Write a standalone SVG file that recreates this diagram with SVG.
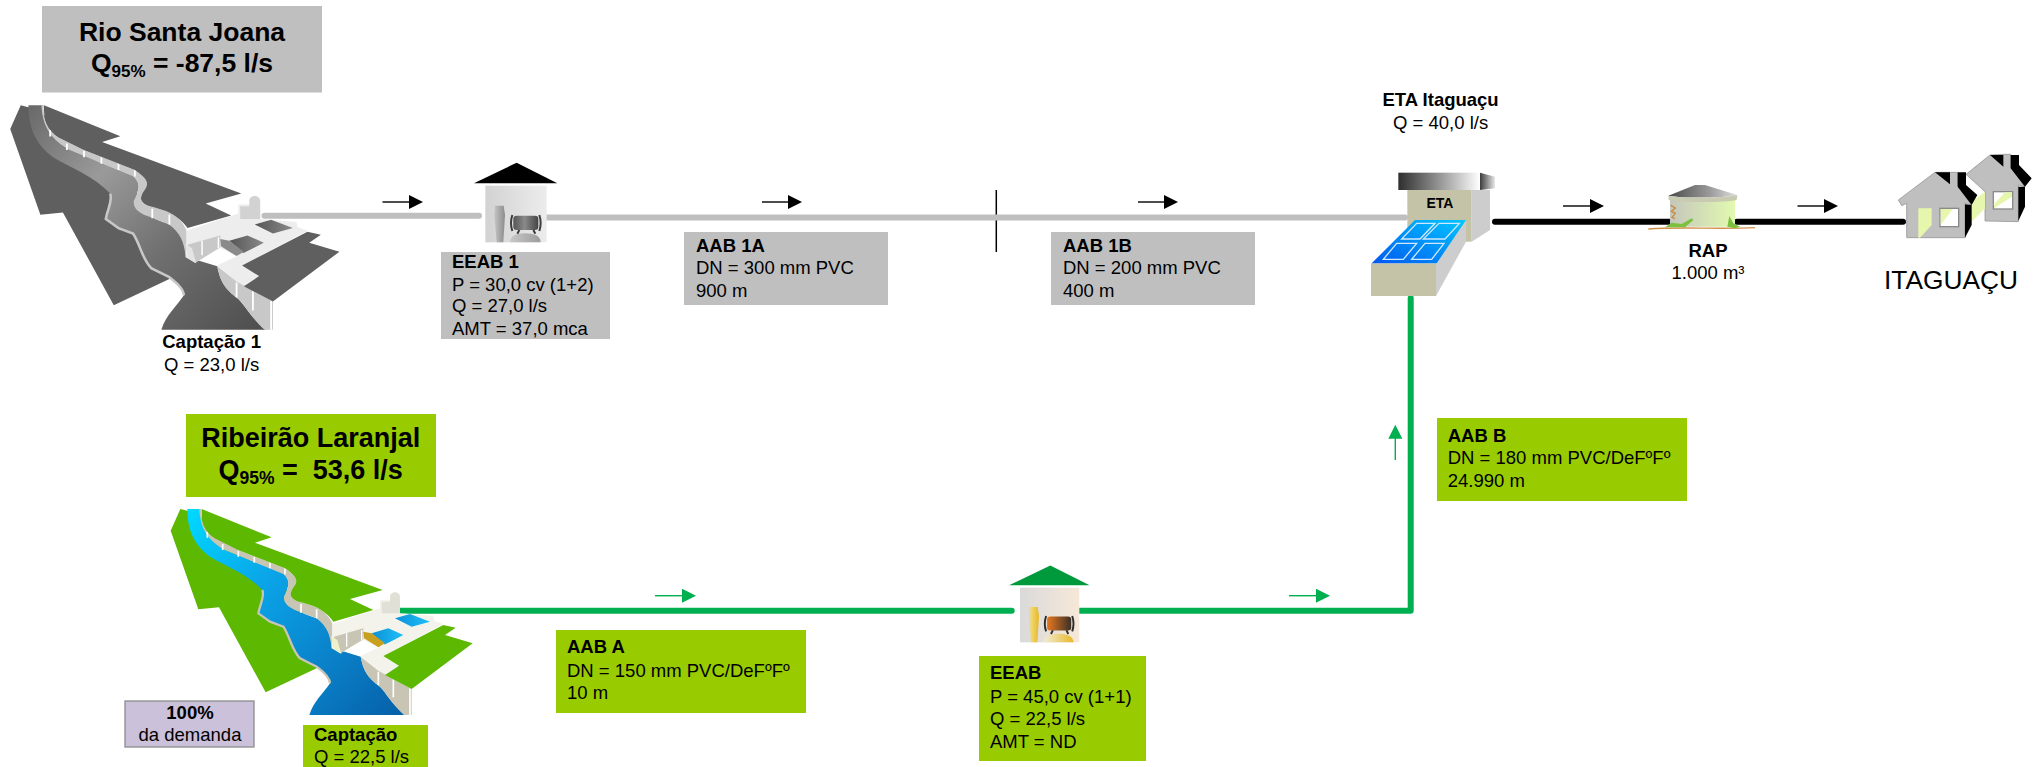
<svg xmlns="http://www.w3.org/2000/svg" width="2035" height="767" viewBox="0 0 2035 767">
<style>
text{font-family:"Liberation Sans",Arial,sans-serif;fill:#000;white-space:pre}
.t{font-size:18.5px}
.b{font-weight:bold}
.m{text-anchor:middle}
.h{font-size:26.5px;font-weight:bold;text-anchor:middle}
.g{fill:#bfbfbf}
.v{fill:#99cc00}
.pipe{fill:none;stroke-width:6;stroke-linecap:round;stroke-linejoin:round}
.ar{stroke-width:1.4;fill:none}
.ak{stroke:#000;marker-end:url(#hk)}
.ag{stroke:#00b050;marker-end:url(#hg)}
.land{fill:var(--land)}
.water{fill:var(--water)}
.wall{fill:var(--wall)}
.top{fill:var(--top)}
.rib{stroke:#fff;stroke-width:5;fill:none}
.bank{fill:none;stroke:var(--wall);stroke-width:7}
.basin{fill:var(--basin)}
.gate{fill:var(--gate)}
.pale{fill:var(--pale)}
.tower{fill:var(--tower)}
.rf{fill:var(--rf)}
.bd{fill:var(--bd)}
.cl{fill:var(--cl)}
.pm{fill:var(--pm)}
.fl{fill:none;stroke:var(--fl);stroke-width:6}
.bs{fill:var(--bs)}
.hs{fill:#bfbfbf;stroke:#8a8a8a;stroke-width:2}
.k{fill:#000}
.ye{fill:#e6f7ad}
.win{fill:#fff;stroke:#8a8a8a;stroke-width:4}
</style>
<defs>
<marker id="hk" markerUnits="userSpaceOnUse" markerWidth="15" markerHeight="15" refX="1" refY="7" orient="auto"><path d="M0,0L14,7L0,14Z" fill="#000"/></marker>
<marker id="hg" markerUnits="userSpaceOnUse" markerWidth="15" markerHeight="15" refX="1" refY="7" orient="auto"><path d="M0,0L14,7L0,14Z" fill="#00b050"/></marker>
<linearGradient id="wG" gradientUnits="userSpaceOnUse" x1="262" y1="340" x2="900" y2="950"><stop offset="0" stop-color="#00d8ff"/><stop offset=".35" stop-color="#0aa4e8"/><stop offset=".7" stop-color="#0a80c8"/><stop offset="1" stop-color="#0560a8"/></linearGradient>
<linearGradient id="wK" gradientUnits="userSpaceOnUse" x1="262" y1="340" x2="900" y2="950"><stop offset="0" stop-color="#6a6a6a"/><stop offset=".3" stop-color="#9a9a9a"/><stop offset=".6" stop-color="#707070"/><stop offset="1" stop-color="#4e4e4e"/></linearGradient>
<linearGradient id="bG" x1="0" y1="0" x2="1" y2="0"><stop offset="0" stop-color="#0a90d8"/><stop offset="1" stop-color="#20c0f8"/></linearGradient>
<linearGradient id="bK" x1="0" y1="0" x2="1" y2="0"><stop offset="0" stop-color="#555"/><stop offset="1" stop-color="#8a8a8a"/></linearGradient>
<linearGradient id="eb1" x1="0" y1="0" x2="1" y2="0"><stop offset="0" stop-color="#d2d2d2"/><stop offset="1" stop-color="#ececec"/></linearGradient>
<linearGradient id="ec1" x1="0" y1="0" x2="1" y2="0"><stop offset="0" stop-color="#c4c4c4"/><stop offset="1" stop-color="#8c8c8c"/></linearGradient>
<linearGradient id="ep1" x1="0" y1="0" x2="1" y2="0"><stop offset="0" stop-color="#555"/><stop offset=".45" stop-color="#8a8a8a"/><stop offset="1" stop-color="#444"/></linearGradient>
<linearGradient id="es1" x1="0" y1="0" x2="1" y2="0"><stop offset="0" stop-color="#c8c8c8"/><stop offset="1" stop-color="#9c9c9c"/></linearGradient>
<linearGradient id="eb2" x1="0" y1="0" x2="1" y2="0"><stop offset="0" stop-color="#dadada"/><stop offset="1" stop-color="#f6e8d8"/></linearGradient>
<linearGradient id="ec2" x1="0" y1="0" x2="1" y2="0"><stop offset="0" stop-color="#d8d8d8"/><stop offset=".25" stop-color="#f0d870"/><stop offset="1" stop-color="#e8b828"/></linearGradient>
<linearGradient id="ep2" x1="0" y1="0" x2="1" y2="0"><stop offset="0" stop-color="#e87820"/><stop offset="1" stop-color="#3a3028"/></linearGradient>
<linearGradient id="es2" x1="0" y1="0" x2="1" y2="0"><stop offset="0" stop-color="#f0ecd8"/><stop offset="1" stop-color="#e8b828"/></linearGradient>
<linearGradient id="capF" x1="0" y1="0" x2="1" y2="0"><stop offset="0" stop-color="#2e2e2e"/><stop offset=".45" stop-color="#8a8a8a"/><stop offset="1" stop-color="#fff"/></linearGradient>
<linearGradient id="capS" x1="0" y1="0" x2="1" y2="0"><stop offset="0" stop-color="#3c3c3c"/><stop offset="1" stop-color="#e8e8e8"/></linearGradient>
<linearGradient id="tank" x1="0" y1="1" x2="1" y2="0"><stop offset="0" stop-color="#0058f0"/><stop offset="1" stop-color="#00c8ff"/></linearGradient>
<linearGradient id="rRoof" x1="0" y1="0" x2="1" y2="0"><stop offset="0" stop-color="#4a4a4a"/><stop offset=".6" stop-color="#9a9a9a"/><stop offset="1" stop-color="#e0e0e0"/></linearGradient>
<linearGradient id="rBody" x1="0" y1="0" x2="1" y2="0"><stop offset="0" stop-color="#c4c6bc"/><stop offset="1" stop-color="#e2fab0"/></linearGradient>
<g id="riverArt" transform="translate(100,400) scale(.33333)">
<path class="land" d="M241,327L212,392L295,628L357,622L497,877L650,805L600,600L450,480L290,340Z"/>
<path class="water" d="M262,327L303,327C300,380 320,420 375,450L550,520C575,545 565,560 552,590C555,620 590,632 650,655C690,680 695,710 700,745L782,770C790,810 800,830 840,860C860,880 870,905 915,945L628,945C640,905 670,880 690,850C690,835 670,815 650,800L600,775C575,750 570,710 550,680L510,665L475,640C480,610 495,590 487,570C440,520 380,500 330,470C290,440 262,400 262,327Z"/>
<path class="bank" d="M487,570C495,590 480,610 475,640L510,665L550,680C570,710 575,750 600,775L650,800C670,815 690,835 690,850"/>
<path class="wall" d="M303,327C303,370 315,395 345,415L420,452L555,505C585,525 595,540 585,555C570,575 565,590 590,602L640,618C670,630 690,650 697,672L702,745L695,745C690,700 680,680 650,655L590,632C565,622 550,610 552,590C565,560 575,545 550,522L375,450C330,425 300,390 298,327Z"/>
<path class="rib" d="M322,395V413M368,432V450M415,452V470M463,470V488M510,485V505M555,505V523M603,612V638M650,628V655"/>
<path class="land" d="M305,327L515,412L465,428L848,570L750,597L820,630L700,665C690,650 670,630 640,618L590,602C565,590 570,575 585,555C595,540 585,525 555,505L420,452L345,415C315,395 303,370 305,327Z"/>
<path class="top" d="M697,672L840,625L840,600L900,600L900,640L1000,648L1003,662L850,742L835,742L790,720L720,760L695,745Z"/>
<path class="wall" d="M702,710L790,685L790,718L722,760L702,745Z"/>
<path class="rib" d="M740,700V740M785,690V720" style="stroke-width:4"/>
<path class="pale" d="M693,708L712,720L724,762L700,745Z"/>
<path class="tower" d="M870,590C870,572 900,572 900,590V640H845V605H870Z"/>
<path class="basin" d="M885,655L930,642L990,665L935,680Z"/>
<path class="basin" d="M815,700L865,685L910,705L855,735Z"/>
<path class="gate" d="M790,695L815,700L855,730L835,742L792,715Z"/>
<path class="top" d="M782,768L1003,662L1030,672L850,768L897,797L853,825L835,812Z"/>
<path class="wall" d="M782,770L835,812L935,867V945H912C870,905 860,880 840,860C800,830 790,810 782,770Z"/>
<path class="rib" d="M835,815V855M880,838V892M930,865V945"/>
<path class="land" d="M850,768L1030,675L1067,683L1035,705L1118,730L935,867L855,825L897,797Z"/>
</g>
<g id="pumpArt">
<path class="rf" d="M170,38L292,100H42Z"/>
<rect class="bd" x="76" y="107" width="184" height="170"/>
<path class="cl" d="M105,167H131L135,195L130,277H110L103,195Z"/>
<path class="bs" d="M150,277C150,258 170,250 195,250C222,250 242,258 242,277Z"/>
<rect class="pm" x="160" y="197" width="75" height="43" rx="10"/>
<path class="fl" d="M157,195C152,210 152,228 157,243M238,195C243,210 243,228 238,243M178,240L172,251M220,240L226,251"/>
</g>
</defs>

<g id="connectors">
<path class="pipe" stroke="#bfbfbf" d="M264.5,215.7H479"/>
<path d="M996.3,190V252" stroke="#000" stroke-width="1.5"/>
<path class="pipe" stroke="#bfbfbf" d="M540,217.5H1405"/>
<path class="pipe" stroke="#000" d="M1495,221.7H1669M1737,221.7H1903"/>
<path class="pipe" stroke="#00b050" d="M394,610.7H1011.7M1080,610.7H1410.7V298"/>
<path class="ar ak" d="M382.5,202H410"/>
<path class="ar ak" d="M762,202H789"/>
<path class="ar ak" d="M1138,202H1165"/>
<path class="ar ak" d="M1563,206H1591"/>
<path class="ar ak" d="M1797.5,206H1825"/>
<path class="ar ag" d="M655,595.7H683"/>
<path class="ar ag" d="M1289,595.7H1317"/>
<path class="ar ag" d="M1395.3,460V437.7"/>
</g>

<g id="rio-santa-joana">
<rect class="g" x="42" y="6" width="280" height="86.5"/>
<text class="h" x="182" y="40.7">Rio Santa Joana</text>
<text class="h" x="182" y="72">Q<tspan font-size="17" dy="5">95%</tspan><tspan dy="-5"> = -87,5 l/s</tspan></text>
</g>

<g id="captacao-1">
<use href="#riverArt" transform="matrix(1.09 0 0 1.09 -175.8 -449.5)" style="--land:#5f5f5f;--water:url(#wK);--wall:#c8c8c8;--top:#ededed;--basin:url(#bK);--gate:#8a8a8a;--pale:#e4e4e4;--tower:#d2d2d2"/>
<text class="t b m" x="211.6" y="348">Captação 1</text>
<text class="t m" x="211.6" y="370.7">Q = 23,0 l/s</text>
</g>

<g id="eeab-1">
<use href="#pumpArt" transform="translate(460,150) scale(.33333)" style="--rf:#000;--bd:url(#eb1);--cl:url(#ec1);--pm:url(#ep1);--fl:#3c3c3c;--bs:url(#es1)"/>
<rect class="g" x="441" y="252" width="169" height="87"/>
<text class="t b" x="452" y="267.7">EEAB 1</text>
<text class="t" x="452" y="290.7">P = 30,0 cv (1+2)</text>
<text class="t" x="452" y="311.7">Q = 27,0 l/s</text>
<text class="t" x="452" y="335">AMT = 37,0 mca</text>
</g>

<g id="aab-1a">
<rect class="g" x="684" y="232" width="204" height="73"/>
<text class="t b" x="696" y="251.7">AAB 1A</text>
<text class="t" x="696" y="274">DN = 300 mm PVC</text>
<text class="t" x="696" y="296.7">900 m</text>
</g>

<g id="aab-1b">
<rect class="g" x="1051" y="232" width="204" height="73"/>
<text class="t b" x="1063" y="251.7">AAB 1B</text>
<text class="t" x="1063" y="274">DN = 200 mm PVC</text>
<text class="t" x="1063" y="296.7">400 m</text>
</g>

<g id="eta">
<text class="t b m" x="1440.6" y="106">ETA Itaguaçu</text>
<text class="t m" x="1440.6" y="129">Q = 40,0 l/s</text>
<g transform="translate(1360,160) scale(.33333)">
<path fill="url(#capS)" d="M360,38L405,50V85L360,90Z"/>
<rect fill="url(#capF)" x="115" y="38" width="245" height="52"/>
<rect fill="#c4c3a8" x="142" y="90" width="193" height="155"/>
<path fill="#cdcdcd" d="M335,90H390V210L335,245Z"/>
<path fill="#cdcdcd" d="M228,310L318,180V245L228,408Z"/>
<rect fill="#c4c3a8" x="33" y="310" width="195" height="98"/>
<path fill="url(#tank)" d="M165,180H318L230,310H35Z"/>
<path fill="none" stroke="#cfe8ff" stroke-width="4" d="M170,190H225L180,237H125ZM237,190H298L255,237H190ZM110,250H170L130,298H70ZM195,250H252L215,298H155Z"/>
</g>
<text class="b" x="1440" y="207.7" font-size="14" text-anchor="middle">ETA</text>
</g>

<g id="rap">
<g transform="translate(1640,170) scale(.33333)">
<path fill="url(#rBody)" d="M90,88H285V170H90Z"/>
<path fill="url(#rRoof)" d="M85,77L165,45H195L292,75C250,85 130,85 85,77Z"/>
<path fill="#c9cab2" d="M85,77C130,85 250,85 292,75L290,90C250,98 130,98 86,90Z"/>
<path fill="none" stroke="#c98a40" stroke-width="4" d="M92,106L106,114L94,124L106,130L96,142L104,146"/>
<path fill="none" stroke="#d2914a" stroke-width="4" d="M25,177C120,170 230,178 345,173"/>
<path fill="#7cc040" d="M75,172L95,158L125,162L155,145L160,150L135,172ZM262,170L268,138L280,160L300,170L285,175Z"/>
</g>
<text class="t b m" x="1708" y="256.7">RAP</text>
<text class="t m" x="1708" y="279">1.000 m³</text>
</g>

<g id="itaguacu">
<g transform="translate(1890,145) scale(.33333)">
<path class="hs" d="M300,30L340,28H362V65L405,125L385,120V230L285,228V140L228,88Z"/>
<path class="k" d="M300,30L340,30V65ZM362,30H387V60L425,100L405,125L362,70ZM385,125L405,125V185L385,228Z"/>
<path class="ye" d="M285,140L245,170V230L285,190Z"/>
<rect class="win" x="310" y="140" width="58" height="52"/>
<path class="ye" d="M345,142H366V155L312,190V178Z"/>
<path class="hs" d="M135,82L180,82H203V120L245,180L225,175V278H50V175L35,182L25,165Z"/>
<path class="k" d="M135,82L180,82V118ZM203,82H228V120L262,150L245,180L203,125ZM225,178L245,180V240L225,278Z"/>
<path class="ye" d="M85,190H125V240L90,278H85Z"/>
<rect class="win" x="150" y="190" width="56" height="55"/>
<path class="ye" d="M152,192H188L152,240Z"/>
</g>
<text x="1884" y="289" font-size="26.3">ITAGUAÇU</text>
</g>

<g id="ribeirao-laranjal">
<rect class="v" x="186" y="414" width="250" height="83"/>
<text class="h" x="310.7" y="446.7" style="font-size:27px">Ribeirão Laranjal</text>
<text class="h" x="310.7" y="478.7" style="font-size:27px">Q<tspan font-size="17.5" dy="5">95%</tspan><tspan dy="-5"> =  53,6 l/s</tspan></text>
</g>

<g id="captacao">
<use href="#riverArt" style="--land:#5cb800;--water:url(#wG);--wall:#c8c5b5;--top:#f3f3ec;--basin:url(#bG);--gate:#c8a020;--pale:#eef2c8;--tower:#e0e0d6"/>
<rect class="v" x="303" y="725" width="125" height="42"/>
<text class="t b" x="314" y="740.7">Captação</text>
<text class="t" x="314" y="763">Q = 22,5 l/s</text>
</g>

<g id="demanda">
<rect x="125" y="701" width="129" height="46" fill="#ccc1da" stroke="#8c8c8c" stroke-width="1.3"/>
<text class="t b m" x="190" y="719">100%</text>
<text class="t m" x="190" y="741">da demanda</text>
</g>

<g id="aab-a">
<rect class="v" x="556" y="630" width="250" height="83"/>
<text class="t b" x="567" y="653">AAB A</text>
<text class="t" x="567" y="676.7">DN = 150 mm PVC/DeFºFº</text>
<text class="t" x="567" y="699">10 m</text>
</g>

<g id="eeab">
<use href="#pumpArt" transform="matrix(.3223 0 0 .3217 995.5 553.2)" style="--rf:#009a3c;--bd:url(#eb2);--cl:url(#ec2);--pm:url(#ep2);--fl:#2c2c2c;--bs:url(#es2)"/>
<rect class="v" x="979" y="656" width="167" height="105"/>
<text class="t b" x="990" y="679.3">EEAB</text>
<text class="t" x="990" y="702.7">P = 45,0 cv (1+1)</text>
<text class="t" x="990" y="725">Q = 22,5 l/s</text>
<text class="t" x="990" y="747.7">AMT = ND</text>
</g>

<g id="aab-b">
<rect class="v" x="1437" y="418" width="250" height="83"/>
<text class="t b" x="1447.7" y="441.7">AAB B</text>
<text class="t" x="1447.7" y="464">DN = 180 mm PVC/DeFºFº</text>
<text class="t" x="1447.7" y="487.3">24.990 m</text>
</g>
</svg>
